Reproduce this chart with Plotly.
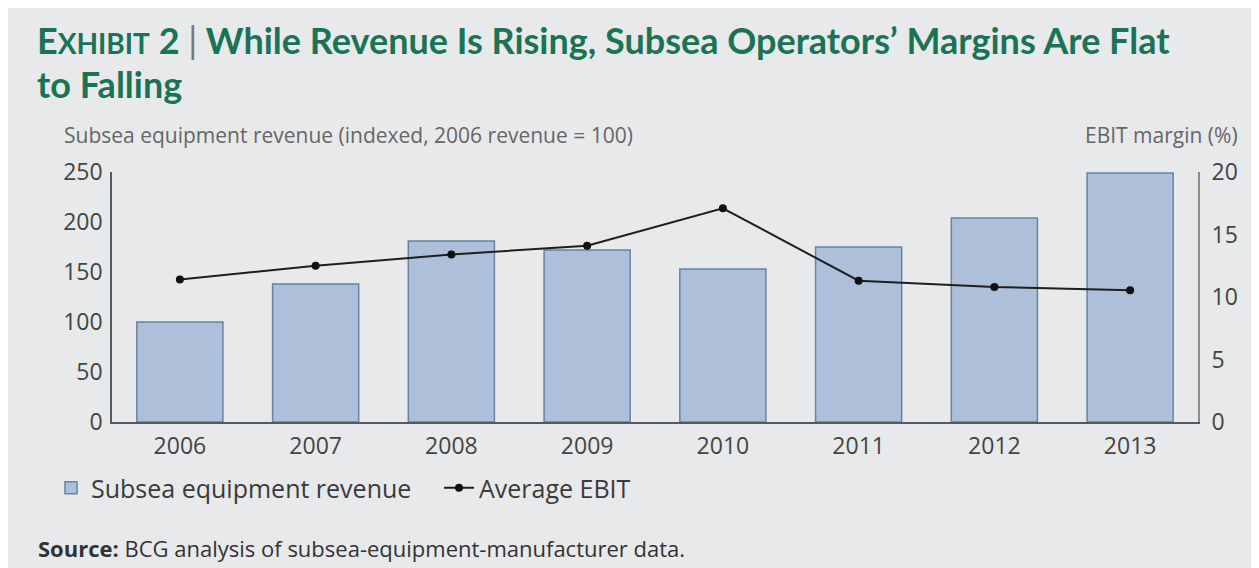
import plotly.graph_objects as go

years = ["2006", "2007", "2008", "2009", "2010", "2011", "2012", "2013"]
revenue = [100, 138, 181, 172, 153, 175, 204, 249]
ebit = [11.4, 12.5, 13.4, 14.1, 17.1, 11.3, 10.8, 10.55]
left_ticks = [0, 50, 100, 150, 200, 250]
right_ticks = [0, 5, 10, 15, 20]

OFF = 8  # page body margin
W, H = 1259 - OFF, 568 - OFF
L, R, T, B = 112 - OFF, 1198 - OFF, 172 - OFF, 422 - OFF
pw, ph = R - L, B - T

def px(x):
    return (x - OFF - L) / pw

def py(y):
    return (B - (y - OFF)) / ph

BG = "#e7e9eb"
GREEN = "#1b7355"

fig = go.Figure()
fig.add_trace(go.Bar(
    x=years, y=revenue, name="Subsea equipment revenue",
    marker=dict(color="#aebfda", line=dict(color="#6583a3", width=1.5)),
    yaxis="y",
))
fig.add_trace(go.Scatter(
    x=years, y=ebit, name="Average EBIT", mode="lines+markers",
    line=dict(color="#1e1e1e", width=2),
    marker=dict(color="#111111", size=8),
    yaxis="y2",
))

tickfont = dict(size=23, color="#444", family="Open Sans")
fig.update_layout(
    width=W, height=H,
    margin=dict(l=L, r=W - R, t=T, b=H - B),
    paper_bgcolor=BG, plot_bgcolor=BG,
    bargap=0.366,
    font=dict(family="Open Sans", color="#4a4a4a"),
    xaxis=dict(
        type="category", range=[-0.5, 7.5],
        showgrid=False, zeroline=False,
        showline=True, linecolor="#555a60", linewidth=1.5,
        ticks="", tickfont=tickfont, ticklabelstandoff=3,
    ),
    yaxis=dict(
        range=[0, 250], tickvals=left_ticks, showgrid=False, zeroline=False,
        showline=True, linecolor="#555a60", linewidth=1.5,
        ticks="", tickfont=tickfont, ticklabelstandoff=3,
    ),
    yaxis2=dict(
        range=[0, 20], tickvals=right_ticks, overlaying="y", side="right",
        showgrid=False, zeroline=False,
        showline=True, linecolor="#8a8d90", linewidth=2,
        ticks="", tickfont=tickfont, ticklabelstandoff=7,
    ),
    showlegend=True,
    legend=dict(
        orientation="h", x=px(51), y=py(488), xanchor="left", yanchor="middle",
        bgcolor="rgba(0,0,0,0)", font=dict(size=25, color="#3a3a3a", family="Open Sans"),
        traceorder="normal", entrywidth=343, entrywidthmode="pixels",
    ),
)

title1 = ("<b>E<span style='font-size:28px'>XHIBIT</span> 2 "
          "<span style='color:#777;font-weight:normal'>|</span> "
          "While Revenue Is Rising, Subsea Operators’ Margins Are Flat</b>")
annotations = [
    dict(text=title1, x=px(35), y=py(40), xanchor="left", yanchor="middle",
         font=dict(size=36, color=GREEN, family="Lato")),
    dict(text="<b>to Falling</b>", x=px(35), y=py(84), xanchor="left", yanchor="middle",
         font=dict(size=36, color=GREEN, family="Lato")),
    dict(text="Subsea equipment revenue (indexed, 2006 revenue = 100)", x=px(62), y=py(135),
         xanchor="left", yanchor="middle", font=dict(size=21, color="#666", family="Open Sans")),
    dict(text="EBIT margin (%)", x=px(1240), y=py(135),
         xanchor="right", yanchor="middle", font=dict(size=21, color="#666", family="Open Sans")),
    dict(text="<b>Source:</b> BCG analysis of subsea-equipment-manufacturer data.", x=px(36), y=py(548),
         xanchor="left", yanchor="middle", font=dict(size=22, color="#333", family="Open Sans")),
]
for a in annotations:
    a.update(xref="paper", yref="paper", showarrow=False)
fig.update_layout(annotations=annotations)

fig.write_html("out.html")
